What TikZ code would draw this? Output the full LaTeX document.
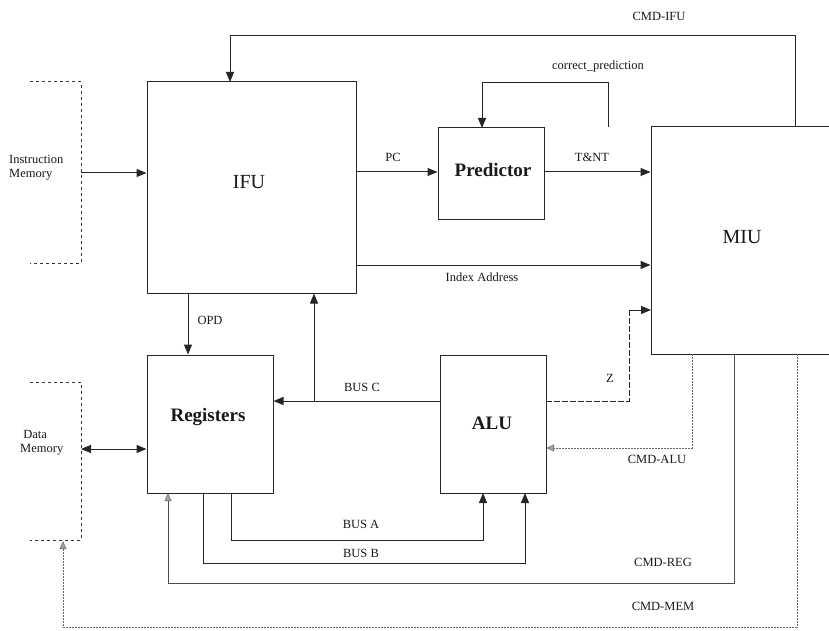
\documentclass[tikz,border=0pt]{standalone}
\usepackage{fontspec}
\setmainfont{Liberation Serif}
\usetikzlibrary{arrows.meta}
\begin{document}
\begin{tikzpicture}[x=1pt,y=-1pt,
  blk/.style={draw=black!85,line width=1pt,inner sep=0pt,anchor=center},
  big/.style={font=\fontsize{20}{22}\selectfont,text=black!90},
  bigb/.style={font=\fontsize{19}{21}\selectfont\bfseries,text=black!90},
  lbl/.style={font=\fontsize{12.5}{14}\selectfont,text=black!90,inner sep=0pt},
  mem/.style={draw=black!80,line width=1pt,dash pattern=on 3pt off 3pt},
  conn/.style={draw=black!85,line width=1pt},
  cmd/.style={draw=black!60,line width=0.9pt,dash pattern=on 2pt off 1pt},
  tip/.style={-{Triangle[length=10pt,width=8pt]}},
  gtip/.style={-{Triangle[length=8pt,width=7pt,color=black!50,fill=black!35]}},
  dtip/.style={{Triangle[length=10pt,width=8pt]}-{Triangle[length=10pt,width=8pt]}}
]
\useasboundingbox (0,0) rectangle (829,631);
\clip (0,0) rectangle (829,631);
\fill[white] (0,0) rectangle (829,631);

% blocks
\node[blk,minimum width=209pt,minimum height=211pt] (IFU) at (251.5,187.5) {};
\node[blk,minimum width=106pt,minimum height=91pt] (PRED) at (491,173.5) {};
\node[blk,minimum width=189pt,minimum height=227pt] (MIU) at (745.5,240.5) {};
\node[blk,minimum width=126pt,minimum height=138pt] (REG) at (210,424) {};
\node[blk,minimum width=106pt,minimum height=138pt] (ALU) at (493,424) {};

\node[big] (tIFU) at (249,182) {IFU};
\node[big] (tMIU) at (742,237) {MIU};
\node[bigb] (tPRED) at (493,170) {Predictor};
\node[bigb] (tREG) at (208,417) {Registers};
\node[bigb] (tALU) at (492,423) {ALU};

% memories
\coordinate (imT) at (30,82);
\coordinate (imB) at (30,263);
\coordinate (im) at (81,173);
\draw[mem] (imT) -- (81,82) -- (81,263) -- (imB);
\node[lbl,align=left,anchor=west] (tIM) at (9,168) {Instruction\\Memory};
\coordinate (dmT) at (30,382);
\coordinate (dmB) at (30,540);
\coordinate (dm) at (81,449);
\draw[mem] (dmT) -- (81,382) -- (81,540) -- (dmB);
\node[lbl,align=left,anchor=west] (tDM) at (20,443) {\ Data\\Memory};

\draw[conn,tip] (im) -- (im -| IFU.west);
\draw[conn,dtip] (dm) -- (dm -| REG.west);

% IFU -> Predictor, Predictor -> MIU, Index address
\coordinate (pc) at (356,172);
\draw[conn,tip] (pc) -- (pc -| PRED.west);
\node[lbl] (tPC) at (393,157) {PC};
\coordinate (tn) at (544,172);
\draw[conn,tip] (tn) -- (tn -| MIU.west);
\node[lbl] (tTN) at (592,157) {T\&NT};
\coordinate (ia) at (356,265);
\draw[conn,tip] (ia) -- (ia -| MIU.west);
\node[lbl] (tIA) at (482,277) {Index Address};

% correct_prediction
\coordinate (cpS) at (608,127);
\draw[conn,tip] (cpS) -- (608,83) -- (482,83) -- (482,128);
\node[lbl] (tCP) at (598,66) {correct\_prediction};

% CMD-IFU
\coordinate (ciS) at (795,127);
\draw[conn,tip] (ciS) -- (795,36) -- (230,36) -- (230,82);
\node[lbl] (tCI) at (659,16) {CMD-IFU};

% OPD
\coordinate (opd) at (188,293);
\draw[conn,tip] (opd) -- (opd |- REG.north);
\node[lbl] (tOPD) at (210,320) {OPD};

% BUS C
\coordinate (bc) at (440,401);
\coordinate (bcj) at (314,401);
\draw[conn,tip] (bc) -- (bc -| REG.east);
\draw[conn,tip] (bcj) -- (bcj |- IFU.south);
\node[lbl] (tBC) at (362,387) {BUS C};

% BUS A / BUS B
\coordinate (ba) at (231,493);
\draw[conn,tip] (ba) -- (231,540) -- (483,540) -- (483,493);
\node[lbl] (tBA) at (361,524) {BUS A};
\coordinate (bb) at (203,493);
\draw[conn,tip] (bb) -- (203,563) -- (525,563) -- (525,493);
\node[lbl] (tBB) at (361,553) {BUS B};

% Z
\coordinate (z) at (546,401);
\draw[conn,dash pattern=on 6pt off 2pt] (z) -- (629,401) -- (629,310);
\draw[conn,tip] (629,310) -- (651,310);
\node[lbl] (tZ) at (610,378) {Z};

% CMD-ALU
\coordinate (ca) at (692,354);
\draw[cmd,gtip] (ca) -- (692,448) -- (546,448);
\node[lbl] (tCA) at (657,459) {CMD-ALU};

% CMD-REG
\coordinate (cr) at (734,354);
\draw[conn,draw=black!70,gtip] (cr) -- (734,583) -- (168,583) -- (168,493);
\node[lbl] (tCR) at (663,562) {CMD-REG};

% CMD-MEM
\coordinate (cm) at (797,354);
\draw[cmd,gtip] (cm) -- (797,627) -- (63,627) -- (63,541);
\node[lbl] (tCM) at (663,606) {CMD-MEM};
\end{tikzpicture}
\end{document}
